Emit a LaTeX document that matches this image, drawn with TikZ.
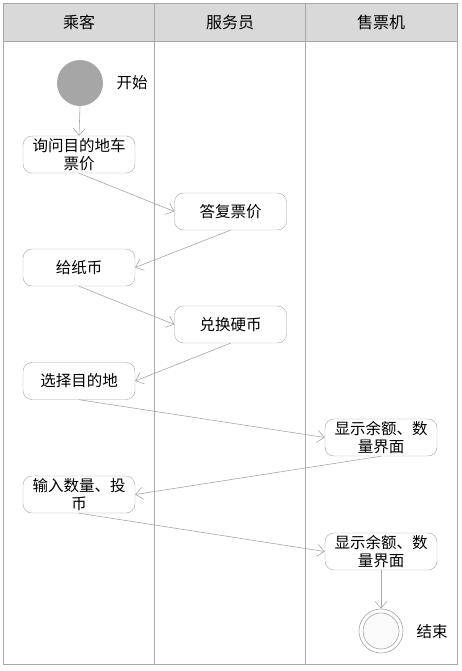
\documentclass[tikz,border=0pt]{standalone}
\usepackage{fontspec}
\setmainfont{Noto Sans CJK SC}
\usetikzlibrary{arrows.meta}
\definecolor{lanegray}{HTML}{A8A8A8}
\definecolor{headfill}{HTML}{D9D9D9}
\definecolor{boxgray}{HTML}{A6A6A6}
\definecolor{startfill}{HTML}{A6A6A6}
\begin{document}
\begin{tikzpicture}[x=1pt,y=-1pt,
  lane/.style={draw=lanegray,line width=0.9pt},
  actbox/.style={draw=boxgray,rounded corners=9pt,minimum width=112pt,minimum height=37pt,
     align=center,font=\fontsize{15.5pt}{17.5pt}\selectfont,inner sep=1pt,fill=white},
  flow/.style={draw=boxgray,line width=0.6pt,-{Straight Barb[length=7pt,width=12pt]}},
  lbl/.style={font=\fontsize{15.5pt}{18pt}\selectfont},
  hdr/.style={font=\fontsize{16pt}{18pt}\selectfont}]
\useasboundingbox (0,0) rectangle (461,671);
% swimlanes
\fill[headfill] (3,3) rectangle (457,41);
\draw[lane] (3,3) rectangle (457,664);
\draw[lane] (3,41) -- (457,41);
\draw[lane] (154,3) -- (154,664);
\draw[lane] (305,3) -- (305,664);
\node[hdr] (h1) at (79,22) {乘客};
\node[hdr] (h2) at (230,22) {服务员};
\node[hdr] (h3) at (381,22) {售票机};
% start
\node[circle,fill=startfill,minimum size=46pt,inner sep=0pt] (start) at (80,83) {};
\node[lbl,anchor=west] (startl) at (113,83) {开始};
% activities
\node[actbox] (a1) at (79,154.5) {询问目的地车\\票价};
\node[actbox] (a2) at (230.5,211.5) {答复票价};
\node[actbox] (a3) at (79,267.5) {给纸币};
\node[actbox] (a4) at (230.5,324.5) {兑换硬币};
\node[actbox] (a5) at (79,381) {选择目的地};
\node[actbox] (a6) at (381,437.5) {显示余额、数\\量界面};
\node[actbox] (a7) at (79,494.5) {输入数量、投\\币};
\node[actbox] (a8) at (381,551.5) {显示余额、数\\量界面};
% end
\node[circle,draw=boxgray,line width=0.6pt,minimum size=44pt,inner sep=0pt,fill=white] (end) at (381,631) {};
\node[circle,draw=boxgray,line width=0.6pt,minimum size=36pt,inner sep=0pt,fill=white!96!gray] (endin) at (381,631) {};
\node[lbl,anchor=west] (endl) at (413,632) {结束};
% flows
\draw[flow] (start.south) -- (a1.north);
\draw[flow] (a1.south) -- (a2.west);
\draw[flow] (a2.south) -- (a3.east);
\draw[flow] (a3.south) -- (a4.west);
\draw[flow] (a4.south) -- (a5.east);
\draw[flow] (a5.south) -- (a6.west);
\draw[flow] (a6.south) -- (a7.east);
\draw[flow] (a7.south) -- (a8.west);
\draw[flow] (a8.south) -- (end.north);
\end{tikzpicture}
\end{document}
